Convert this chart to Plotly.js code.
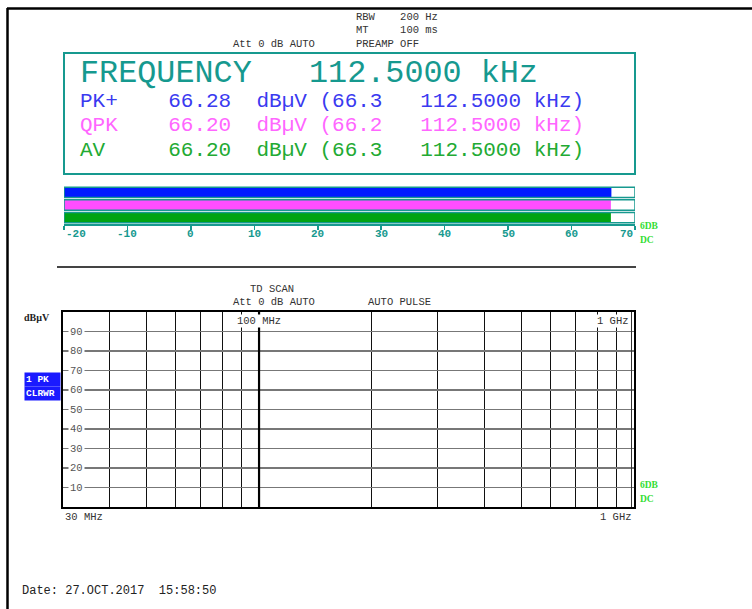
<!DOCTYPE html>
<html>
<head>
<meta charset="utf-8">
<script src="https://cdn.plot.ly/plotly-3.0.1.min.js"></script>
<style>html,body{margin:0;padding:0;background:#fff;}#chart{width:752px;height:609px;}</style>
</head>
<body>
<div id="chart"></div>
<script>
// ---- data ----
const detectors = ['PK+', 'QPK', 'AV'];
const levels = [66.28, 66.20, 66.20];          // dBµV
const maxLevels = [66.3, 66.2, 66.3];          // dBµV
const peakFreqKHz = [112.5, 112.5, 112.5];     // kHz
const centerFreqKHz = 112.5;
const meterTicks = [-20, -10, 0, 10, 20, 30, 40, 50, 60, 70];
const meterRange = [-20, 70];
const levelTicks = [10, 20, 30, 40, 50, 60, 70, 80, 90];
const levelRange = [0, 100];
const freqGridMHz = [40, 50, 60, 70, 80, 90, 100, 200, 300, 400, 500, 600, 700, 800, 900];
const decadeMHz = [100];
const freqRangeMHz = [30, 1000];
const scanTrace = { x: [], y: [] }; // no trace recorded in the scan

// ---- helpers (layout only) ----
const W = 752, H = 609;
const px = v => v / W;
const py = v => 1 - v / H;
const nb = s => s.replace(/ /g, '\u00a0');
const MONO = 'Liberation Mono, Courier New, monospace';
const SERIF = 'Liberation Serif, Times New Roman, serif';
const TEAL = '#16998f';
const detColors = ['#3a3af0', '#ff66ff', '#22aa33'];
const barColors = ['#0019ff', '#ff4dff', '#00a312'];

const traces = [];
// meter bars
traces.push({
  type: 'bar', orientation: 'h', xaxis: 'x2', yaxis: 'y2',
  y: detectors, x: levels.map(v => v - meterRange[0]), base: meterRange[0],
  width: 0.82, marker: { color: barColors, line: { width: 0 } },
  hoverinfo: 'skip', showlegend: false
});
traces.push({
  type: 'bar', orientation: 'h', xaxis: 'x2', yaxis: 'y2',
  y: detectors, x: detectors.map(() => meterRange[1] - meterRange[0]), base: meterRange[0],
  width: 0.82, marker: { color: 'rgba(0,0,0,0)', line: { color: TEAL, width: 1.5 } },
  hoverinfo: 'skip', showlegend: false
});
// scan (empty) + decade line
traces.push({ type: 'scatter', mode: 'lines', x: scanTrace.x, y: scanTrace.y, xaxis: 'x', yaxis: 'y', showlegend: false });
decadeMHz.forEach(f => traces.push({
  type: 'scatter', mode: 'lines', x: [f, f], y: levelRange, xaxis: 'x', yaxis: 'y',
  line: { color: '#000', width: 2.2 }, hoverinfo: 'skip', showlegend: false
}));

const ann = [];
const T = (text, x, y, o = {}) => ann.push(Object.assign({
  text: nb(text), xref: 'paper', yref: 'paper', x: px(x), y: py(y),
  xanchor: 'left', yanchor: 'middle', showarrow: false,
  font: { family: MONO, size: 10.5, color: '#333' }
}, o));

// header
T('RBW    200 Hz', 354, 17);
T('MT     100 ms', 354, 30);
T('PREAMP OFF', 354, 44);
T('Att 0 dB AUTO', 231, 44);

// frequency box
T('FREQUENCY   ' + centerFreqKHz.toFixed(4) + ' kHz', 78, 74, { font: { family: MONO, size: 31.8, color: TEAL } });
detectors.forEach((d, i) => {
  const line = d.padEnd(7) + levels[i].toFixed(2) + '  dBµV (' + maxLevels[i].toFixed(1) + '   ' + peakFreqKHz[i].toFixed(4) + ' kHz)';
  T(line, 78, 101 + i * 24.5, { font: { family: MONO, size: 21, color: detColors[i] } });
});

// meter scale labels
meterTicks.forEach((v, i) => ann.push({
  text: String(v), xref: 'x2', yref: 'paper', x: v, y: py(234),
  xanchor: i === 0 ? 'left' : (i === meterTicks.length - 1 ? 'right' : 'center'), yanchor: 'middle',
  showarrow: false, font: { family: MONO, size: 11, color: TEAL, weight: 'bold' }
}));
T('6DB', 638, 226, { font: { family: SERIF, size: 9.5, color: '#33dd33', weight: 'bold' } });
T('DC', 638, 240, { font: { family: SERIF, size: 9.5, color: '#33dd33', weight: 'bold' } });

// lower plot labels
T('TD SCAN', 248, 289);
T('Att 0 dB AUTO', 231, 302);
T('AUTO PULSE', 366, 302);
T('dBµV', 22, 317, { font: { family: SERIF, size: 10, color: '#222', weight: 'bold' } });
T('1 PK', 24, 379, { bgcolor: '#1a1aff', width: 33, align: 'left', borderpad: 1, font: { family: MONO, size: 9.5, color: '#fff', weight: 'bold' } });
T('CLRWR', 24, 393, { bgcolor: '#1a1aff', width: 33, align: 'left', borderpad: 1, font: { family: MONO, size: 9.5, color: '#fff', weight: 'bold' } });
levelTicks.forEach(v => ann.push({
  text: String(v), xref: 'paper', yref: 'y', x: px(76), y: v, xanchor: 'center', yanchor: 'middle',
  showarrow: false, bgcolor: '#fff', borderpad: 1, font: { family: MONO, size: 10.5, color: '#555' }
}));
T('100 MHz', 236, 321, { bgcolor: '#fff', borderpad: 0 });
T('1 GHz', 596, 321, { bgcolor: '#fff', borderpad: 0 });
T('30 MHz', 63, 517);
T('1 GHz', 598, 517);
T('6DB', 638, 485, { font: { family: SERIF, size: 9.5, color: '#33dd33', weight: 'bold' } });
T('DC', 638, 499, { font: { family: SERIF, size: 9.5, color: '#33dd33', weight: 'bold' } });
T('Date: 27.OCT.2017  15:58:50', 20, 591, { font: { family: MONO, size: 12, color: '#222' } });

const shapes = [
  { type: 'line', xref: 'paper', yref: 'paper', x0: px(7), x1: 1, y0: py(8.5), y1: py(8.5), line: { color: '#000', width: 2.5 } },
  { type: 'line', xref: 'paper', yref: 'paper', x0: px(7.5), x1: px(7.5), y0: py(8), y1: 0, line: { color: '#000', width: 2.5 } },
  { type: 'rect', xref: 'paper', yref: 'paper', x0: px(64), x1: px(635), y0: py(53), y1: py(174), line: { color: TEAL, width: 2 } },
  { type: 'line', xref: 'paper', yref: 'paper', x0: px(57), x1: px(636), y0: py(267), y1: py(267), line: { color: '#444', width: 2 } },
  { type: 'line', xref: 'paper', yref: 'paper', x0: px(631.5), x1: px(631.5), y0: py(312), y1: py(507), line: { color: '#333', width: 1 } }
];

const layout = {
  width: W, height: H, margin: { l: 0, r: 0, t: 0, b: 0 },
  paper_bgcolor: '#fff', plot_bgcolor: '#fff', showlegend: false,
  barmode: 'overlay',
  xaxis: {
    type: 'log', domain: [px(63), px(634)], anchor: 'y',
    range: [Math.log10(freqRangeMHz[0]), Math.log10(freqRangeMHz[1])], autorange: false,
    tickmode: 'array', tickvals: freqGridMHz, showticklabels: false, ticks: '',
    showgrid: true, gridcolor: '#111', gridwidth: 1, zeroline: false,
    showline: true, mirror: true, linecolor: '#000', linewidth: 2.2, fixedrange: true
  },
  yaxis: {
    domain: [py(507), py(312)], anchor: 'x', range: levelRange, autorange: false,
    tickmode: 'array', tickvals: levelTicks, showticklabels: false, ticks: '',
    showgrid: true, gridcolor: '#777', gridwidth: 1.6, zeroline: false,
    showline: true, mirror: true, linecolor: '#000', linewidth: 2.2, fixedrange: true
  },
  xaxis2: {
    domain: [px(64), px(635)], anchor: 'y2', range: meterRange, autorange: false,
    tickmode: 'array', tickvals: meterTicks, showticklabels: false,
    ticks: 'outside', ticklen: 4, tickcolor: TEAL, tickwidth: 1.5,
    showgrid: false, zeroline: false, showline: true, linecolor: TEAL, linewidth: 2, fixedrange: true
  },
  yaxis2: {
    domain: [py(224), py(186)], anchor: 'x2', type: 'category',
    range: [2.5, -0.5], autorange: false, showticklabels: false, ticks: '',
    showgrid: false, zeroline: false, showline: false, fixedrange: true
  },
  annotations: ann,
  shapes: shapes
};

Plotly.newPlot('chart', traces, layout, { displayModeBar: false, staticPlot: true });
</script>
</body>
</html>
